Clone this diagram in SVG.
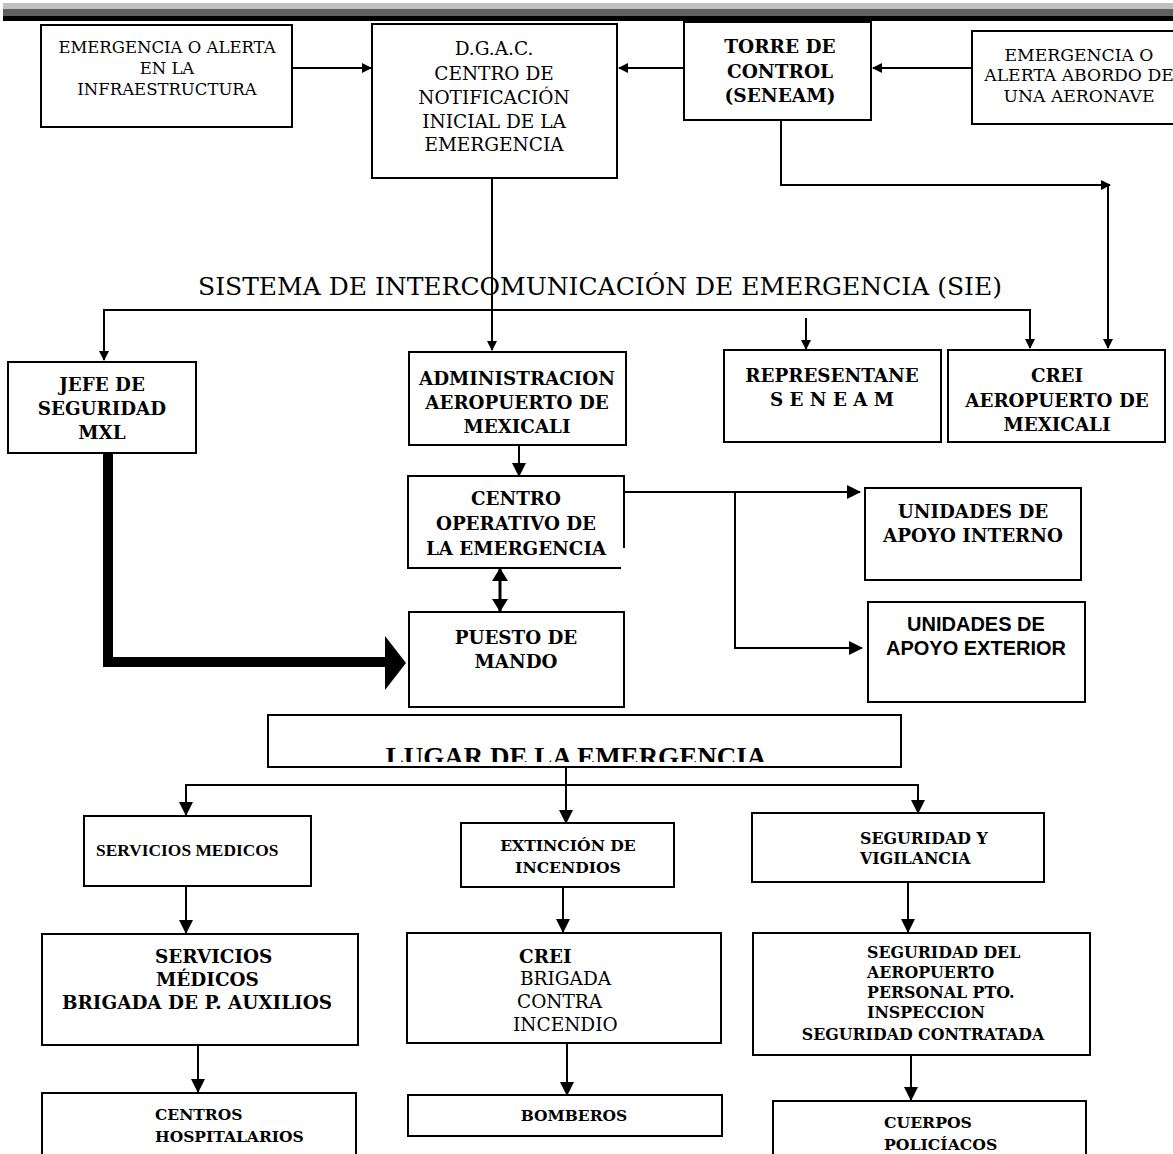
<svg xmlns="http://www.w3.org/2000/svg" width="1173" height="1154" viewBox="0 0 1173 1154">
<style>
.box{fill:#fff;stroke:#000;stroke-width:2}
.ln{fill:none;stroke:#000;stroke-width:2}
.s{font-family:"DejaVu Serif",serif;fill:#000}
.b{font-family:"DejaVu Serif",serif;font-weight:bold;fill:#000}
.t{font-family:"Liberation Serif",serif;font-weight:bold;fill:#000}
.h{font-family:"Liberation Sans",Arial,sans-serif;font-weight:bold;fill:#000}
.m{text-anchor:middle}
</style>
<defs>
<marker id="a" markerUnits="userSpaceOnUse" markerWidth="10" markerHeight="10" refX="9" refY="5" orient="auto"><path d="M0,0 L10,5 L0,10 z" fill="#000"/></marker>
<marker id="b" markerUnits="userSpaceOnUse" markerWidth="14" markerHeight="14" refX="13" refY="7" orient="auto"><path d="M0,0 L14,7 L0,14 z" fill="#000"/></marker>
<marker id="c" markerUnits="userSpaceOnUse" markerWidth="13" markerHeight="16" refX="12" refY="8" orient="auto-start-reverse"><path d="M0,0 L13,8 L0,16 z" fill="#000"/></marker>
<clipPath id="lugclip"><rect x="270" y="716" width="630" height="46"/></clipPath>
</defs>
<g id="topbar">
<rect x="3" y="3" width="1170" height="6" fill="#c0c0c0"/>
<rect x="3" y="9" width="1170" height="8" fill="#606060"/>
<rect x="3" y="16" width="1170" height="5" fill="#000"/>
</g>
<g id="connectors">
<path class="ln" d="M292,68 H371" marker-end="url(#a)"/>
<path class="ln" d="M684,68 H619" marker-end="url(#a)"/>
<path class="ln" d="M972,68 H873" marker-end="url(#a)"/>
<path class="ln" d="M781,120 V185 H1110" marker-end="url(#a)"/>
<path class="ln" d="M1108,185 V348" marker-end="url(#a)"/>
<path class="ln" d="M492,178 V350" marker-end="url(#a)"/>
<path class="ln" d="M104,360 V310 H1030 V348" marker-end="url(#a)"/>
<path class="ln" d="M104,310 V360" marker-end="url(#a)"/>
<path class="ln" d="M806,318 V349" marker-end="url(#a)"/>
<path class="ln" d="M519,445 V476" marker-end="url(#b)"/>
<path class="ln" d="M624,492 H860" marker-end="url(#b)"/>
<path class="ln" d="M735,492 V648 H862" marker-end="url(#b)"/>
<path d="M500,569 V611" fill="none" stroke="#000" stroke-width="3" marker-start="url(#c)" marker-end="url(#c)"/>
<path d="M108,453 V662 H386" fill="none" stroke="#000" stroke-width="10"/>
<polygon points="385,636 406,663 385,690" fill="#000"/>
<path class="ln" d="M566,757 V823" marker-end="url(#b)"/>
<path class="ln" d="M186,815 V785 H918 V813" marker-end="url(#b)"/>
<path class="ln" d="M186,785 V815" marker-end="url(#b)"/>
<path class="ln" d="M186,886 V933" marker-end="url(#b)"/>
<path class="ln" d="M563,887 V932" marker-end="url(#b)"/>
<path class="ln" d="M908,882 V932" marker-end="url(#b)"/>
<path class="ln" d="M198,1045 V1092" marker-end="url(#b)"/>
<path class="ln" d="M567,1043 V1095" marker-end="url(#b)"/>
<path class="ln" d="M911,1055 V1100" marker-end="url(#b)"/>
</g>
<g id="n-infra">
<rect class="box" x="41" y="25" width="251" height="102"/>
<text class="s m" font-size="16.5"><tspan x="167" y="53">EMERGENCIA O ALERTA</tspan><tspan x="167" y="74">EN LA</tspan><tspan x="167" y="95">INFRAESTRUCTURA</tspan></text>
</g>
<g id="n-dgac">
<rect class="box" x="372" y="24" width="245" height="154"/>
<text class="s m" font-size="18.5"><tspan x="494" y="55">D.G.A.C.</tspan><tspan x="494" y="80">CENTRO DE</tspan><tspan x="494" y="104">NOTIFICACIÓN</tspan><tspan x="494" y="128">INICIAL DE LA</tspan><tspan x="494" y="151">EMERGENCIA</tspan></text>
</g>
<g id="n-torre">
<rect class="box" x="684" y="22" width="187" height="98"/>
<text class="b m" font-size="18.5"><tspan x="780" y="53">TORRE DE</tspan><tspan x="780" y="78">CONTROL</tspan><tspan x="780" y="102">(SENEAM)</tspan></text>
</g>
<g id="n-abordo">
<rect class="box" x="972" y="31" width="210" height="93"/>
<text class="s m" font-size="17.2"><tspan x="1079" y="61">EMERGENCIA O</tspan><tspan x="1079" y="81">ALERTA ABORDO DE</tspan><tspan x="1079" y="102">UNA AERONAVE</tspan></text>
</g>
<g id="sie">
<text class="s m" font-size="25" x="600" y="295">SISTEMA DE INTERCOMUNICACIÓN DE EMERGENCIA (SIE)</text>
</g>
<g id="n-jefe">
<rect class="box" x="8" y="362" width="188" height="91"/>
<text class="b m" font-size="18.3"><tspan x="102" y="391">JEFE DE</tspan><tspan x="102" y="415">SEGURIDAD</tspan><tspan x="102" y="439">MXL</tspan></text>
</g>
<g id="n-admin">
<rect class="box" x="409" y="352" width="217" height="93"/>
<text class="b m" font-size="18.3"><tspan x="517" y="385">ADMINISTRACION</tspan><tspan x="517" y="409">AEROPUERTO DE</tspan><tspan x="517" y="433">MEXICALI</tspan></text>
</g>
<g id="n-repr">
<rect class="box" x="724" y="350" width="217" height="92"/>
<text class="b m" font-size="18.3"><tspan x="832" y="382">REPRESENTANE</tspan><tspan x="832" y="406">S E N E A M</tspan></text>
</g>
<g id="n-crei">
<rect class="box" x="948" y="350" width="217" height="92"/>
<text class="b m" font-size="18.3"><tspan x="1057" y="382">CREI</tspan><tspan x="1057" y="407">AEROPUERTO DE</tspan><tspan x="1057" y="431">MEXICALI</tspan></text>
</g>
<g id="n-centro">
<rect class="box" x="408" y="476" width="216" height="92"/>
<rect x="621" y="548" width="8" height="23" fill="#fff"/>
<text class="b m" font-size="18.3"><tspan x="516" y="505">CENTRO</tspan><tspan x="516" y="530">OPERATIVO DE</tspan><tspan x="516" y="555">LA EMERGENCIA</tspan></text>
</g>
<g id="n-interno">
<rect class="box" x="865" y="488" width="216" height="92"/>
<text class="b m" font-size="18.3"><tspan x="973" y="518">UNIDADES DE</tspan><tspan x="973" y="542">APOYO INTERNO</tspan></text>
</g>
<g id="n-exterior">
<rect class="box" x="868" y="602" width="217" height="100"/>
<text class="h m" font-size="20"><tspan x="976" y="631">UNIDADES DE</tspan><tspan x="976" y="655">APOYO EXTERIOR</tspan></text>
</g>
<g id="n-puesto">
<rect class="box" x="409" y="612" width="215" height="95"/>
<text class="b m" font-size="18.3"><tspan x="516" y="644">PUESTO DE</tspan><tspan x="516" y="668">MANDO</tspan></text>
</g>
<g id="n-lugar">
<rect class="box" x="268" y="715" width="633" height="52"/>
<text class="t m" font-size="27" x="576" y="766" clip-path="url(#lugclip)">LUGAR DE LA EMERGENCIA</text>
</g>
<g id="n-medicos">
<rect class="box" x="84" y="816" width="227" height="70"/>
<text class="t" font-size="17.4" x="96" y="856">SERVICIOS MEDICOS</text>
</g>
<g id="n-extincion">
<rect class="box" x="461" y="823" width="213" height="64"/>
<text class="b m" font-size="15.6"><tspan x="568" y="851">EXTINCIÓN DE</tspan><tspan x="568" y="873">INCENDIOS</tspan></text>
</g>
<g id="n-seguridad">
<rect class="box" x="752" y="813" width="292" height="69"/>
<text class="b" font-size="15.8"><tspan x="860" y="844">SEGURIDAD Y</tspan><tspan x="860" y="864">VIGILANCIA</tspan></text>
</g>
<g id="n-brigada">
<rect class="box" x="42" y="934" width="316" height="111"/>
<text class="b" font-size="18.4"><tspan x="155" y="963">SERVICIOS</tspan><tspan x="156" y="986">MÉDICOS</tspan><tspan x="62" y="1009">BRIGADA DE P. AUXILIOS</tspan></text>
</g>
<g id="n-crei2">
<rect class="box" x="407" y="933" width="314" height="110"/>
<text class="b" font-size="18.4" x="519" y="963">CREI</text>
<text class="s" font-size="18.5"><tspan x="520" y="985">BRIGADA</tspan><tspan x="517" y="1008">CONTRA</tspan><tspan x="513" y="1031">INCENDIO</tspan></text>
</g>
<g id="n-segaero">
<rect class="box" x="753" y="933" width="337" height="122"/>
<text class="b" font-size="15.8"><tspan x="867" y="958">SEGURIDAD DEL</tspan><tspan x="867" y="978">AEROPUERTO</tspan><tspan x="867" y="998">PERSONAL PTO.</tspan><tspan x="867" y="1018">INSPECCION</tspan><tspan x="923" y="1040" text-anchor="middle">SEGURIDAD CONTRATADA</tspan></text>
</g>
<g id="n-hosp">
<rect class="box" x="42" y="1093" width="314" height="70"/>
<text class="b" font-size="15.5"><tspan x="155" y="1120">CENTROS</tspan><tspan x="155" y="1142">HOSPITALARIOS</tspan></text>
</g>
<g id="n-bomberos">
<rect class="box" x="408" y="1095" width="314" height="41"/>
<text class="b m" font-size="15.5" x="574" y="1121">BOMBEROS</text>
</g>
<g id="n-policia">
<rect class="box" x="773" y="1101" width="313" height="62"/>
<text class="b" font-size="15.7"><tspan x="884" y="1128">CUERPOS</tspan><tspan x="884" y="1150">POLICÍACOS</tspan></text>
</g>
</svg>
